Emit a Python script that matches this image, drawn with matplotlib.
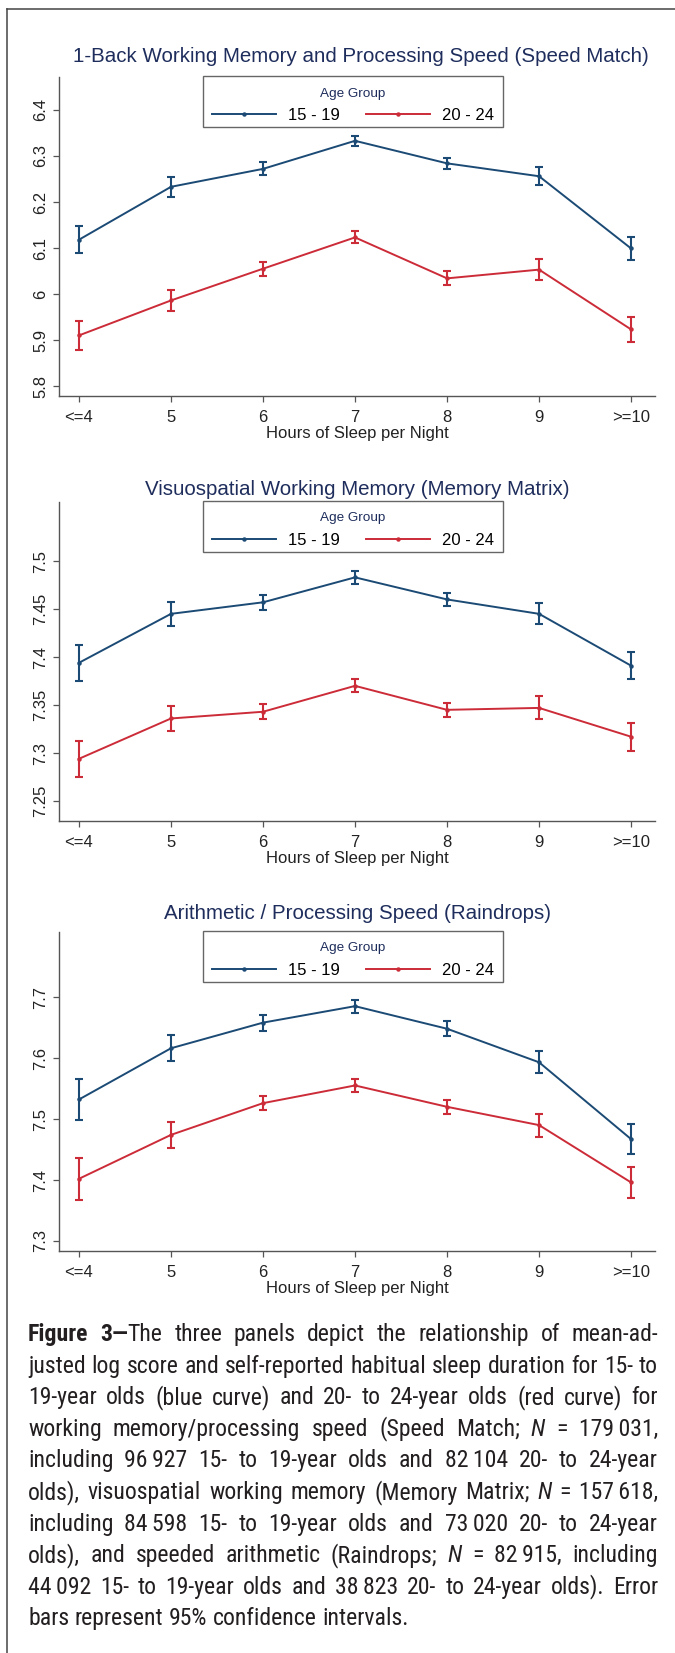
import matplotlib
matplotlib.use("Agg")
import matplotlib.pyplot as plt
from matplotlib import font_manager as fm
from matplotlib.lines import Line2D
from matplotlib.patches import Rectangle

# ---------------- data ----------------
hours = ["<=4", "5", "6", "7", "8", "9", ">=10"]
groups = ["15 - 19", "20 - 24"]

titles = ["1-Back Working Memory and Processing Speed (Speed Match)",
          "Visuospatial Working Memory (Memory Matrix)",
          "Arithmetic / Processing Speed (Raindrops)"]

# Panel 1: Speed Match
sm_mean_1519 = [6.118, 6.233, 6.272, 6.333, 6.284, 6.256, 6.099]
sm_ci_1519 = [0.029, 0.022, 0.014, 0.011, 0.012, 0.019, 0.024]
sm_mean_2024 = [5.910, 5.986, 6.055, 6.123, 6.034, 6.053, 5.923]
sm_ci_2024 = [0.032, 0.023, 0.015, 0.013, 0.015, 0.023, 0.027]
sm_yticks = [5.8, 5.9, 6.0, 6.1, 6.2, 6.3, 6.4]
sm_yticklabels = ["5.8", "5.9", "6", "6.1", "6.2", "6.3", "6.4"]

# Panel 2: Memory Matrix
mm_mean_1519 = [7.394, 7.445, 7.457, 7.483, 7.460, 7.445, 7.391]
mm_ci_1519 = [0.0186, 0.0127, 0.008, 0.0068, 0.007, 0.011, 0.014]
mm_mean_2024 = [7.294, 7.336, 7.343, 7.370, 7.345, 7.347, 7.317]
mm_ci_2024 = [0.019, 0.0127, 0.008, 0.0068, 0.007, 0.012, 0.0145]
mm_yticks = [7.25, 7.30, 7.35, 7.40, 7.45, 7.50]
mm_yticklabels = ["7.25", "7.3", "7.35", "7.4", "7.45", "7.5"]

# Panel 3: Raindrops
rd_mean_1519 = [7.532, 7.616, 7.658, 7.685, 7.648, 7.593, 7.467]
rd_ci_1519 = [0.033, 0.021, 0.013, 0.0105, 0.012, 0.018, 0.025]
rd_mean_2024 = [7.402, 7.474, 7.526, 7.555, 7.520, 7.490, 7.396]
rd_ci_2024 = [0.034, 0.021, 0.012, 0.011, 0.011, 0.019, 0.025]
rd_yticks = [7.3, 7.4, 7.5, 7.6, 7.7]
rd_yticklabels = ["7.3", "7.4", "7.5", "7.6", "7.7"]

caption_lines = [
    "*Figure 3\u2014*The three panels depict the relationship of mean-ad-",
    "justed log score and self-reported habitual sleep duration for 15- to",
    "19-year olds (blue curve) and 20- to 24-year olds (red curve) for",
    "working memory/processing speed (Speed Match; _N_ = 179\u2009031,",
    "including 96\u2009927 15- to 19-year olds and 82\u2009104 20- to 24-year",
    "olds), visuospatial working memory (Memory Matrix; _N_ = 157\u2009618,",
    "including 84\u2009598 15- to 19-year olds and 73\u2009020 20- to 24-year",
    "olds), and speeded arithmetic (Raindrops; _N_ = 82\u2009915, including",
    "44\u2009092 15- to 19-year olds and 38\u2009823 20- to 24-year olds). Error",
    "bars represent 95% confidence intervals.",
]

# ---------------- style ----------------
W, H = 675, 1653
BLUE = "#1b4a75"
RED = "#cc2b38"
NAVY = "#1e2d5c"
AXC = "#555555"
TXT = "#222222"

plt.rcParams["font.family"] = ["Liberation Sans", "DejaVu Sans"]

fig = plt.figure(figsize=(W / 100, H / 100), dpi=100)


def fx(px):
    return px / W


def fy(py):
    return 1 - py / H


# outer frame (top and left edges visible)
fig.add_artist(Line2D([fx(7), 1.0], [fy(9), fy(9)], color="#444444", lw=1.1))
fig.add_artist(Line2D([fx(7), fx(7)], [fy(9), 0.0], color="#444444", lw=1.1))

panels = [
    (titles[0], sm_mean_1519, sm_ci_1519, sm_mean_2024, sm_ci_2024,
     sm_yticks, sm_yticklabels, (5.7783, 6.4717), 77, 396, 56, 361),
    (titles[1], mm_mean_1519, mm_ci_1519, mm_mean_2024, mm_ci_2024,
     mm_yticks, mm_yticklabels, (7.2292, 7.5615), 502, 821, 490, 357),
    (titles[2], rd_mean_1519, rd_ci_1519, rd_mean_2024, rd_ci_2024,
     rd_yticks, rd_yticklabels, (7.2836, 7.8066), 932, 1251, 914, 358),
]

x = list(range(len(hours)))
AX_L, AX_R = 59, 655
LEG_L, LEG_R, LEG_H = 203, 503, 51

for (title, m1, c1, m2, c2, yt, ytl, ylim, top, bot, ty, tx) in panels:
    ax = fig.add_axes([fx(AX_L), fy(bot), (AX_R - AX_L) / W, (bot - top) / H])
    handles = []
    for mean, ci, col, lab in ((m1, c1, BLUE, groups[0]), (m2, c2, RED, groups[1])):
        ax.errorbar(x, mean, yerr=ci, fmt="none", ecolor=col, elinewidth=1.5,
                    capsize=2.6, capthick=1.5, zorder=3)
        ln, = ax.plot(x, mean, color=col, lw=1.4, marker="o", ms=2.2,
                      label=lab, zorder=4)
        handles.append(ln)
    ax.set_xlim(-0.217, 6.26)
    ax.set_ylim(*ylim)
    ax.set_xticks(x)
    ax.set_xticklabels(hours)
    ax.set_yticks(yt)
    ax.set_yticklabels(ytl)
    for s in ("top", "right"):
        ax.spines[s].set_visible(False)
    for s in ("left", "bottom"):
        ax.spines[s].set_color(AXC)
        ax.spines[s].set_linewidth(1.0)
    ax.tick_params(axis="both", direction="out", length=4.3, width=0.9,
                   color=AXC, labelsize=12, labelcolor=TXT)
    ax.tick_params(axis="x", pad=5.5)
    ax.tick_params(axis="y", pad=3.5, labelrotation=90)
    for lab in ax.get_yticklabels():
        lab.set_va("center")
    ax.set_xlabel("Hours of Sleep per Night", fontsize=12, color=TXT, labelpad=1)
    ax.set_facecolor("none")
    # legend frame (Stata style, asymmetric padding)
    ax.add_patch(Rectangle((fx(LEG_L), fy(top - 1 + LEG_H)), (LEG_R - LEG_L) / W, LEG_H / H,
                           transform=fig.transFigure, facecolor="white",
                           edgecolor="#666666", lw=1.0, clip_on=False, zorder=4.9))
    leg = ax.legend(handles=handles, labels=groups, title="Age Group", ncol=2,
                    loc="upper center",
                    bbox_to_anchor=(((LEG_L + LEG_R) / 2 - AX_L) / (AX_R - AX_L), 1.0),
                    frameon=False, fontsize=12, title_fontsize=9.7, handlelength=3.84,
                    handletextpad=0.72, columnspacing=1.55, borderpad=0.63,
                    labelspacing=0.51, borderaxespad=0)
    leg.get_title().set_color(NAVY)
    leg.set_zorder(5)
    fig.text(fx(tx), fy(ty), title, fontsize=14.8,
             color=NAVY, ha="center", va="center")

# ---------------- caption (justified) ----------------
avail = set(f.name for f in fm.fontManager.ttflist)
cap_font = "DejaVu Sans"
for cand in ["Liberation Sans Narrow", "Roboto Condensed", "Archivo Narrow",
             "IBM Plex Sans Condensed", "Fira Sans Condensed"]:
    if cand in avail:
        cap_font = cand
        break
CAP_FAM = [cap_font, "DejaVu Sans"]
CAP_COLOR = "#231f20"
renderer = fig.canvas.get_renderer()


# bold/italic state carries across words; '*' toggles bold, '_' toggles italic
def parse_line(line):
    words = []
    bold = False
    ital = False
    for w in line.split(" "):
        runs = []
        buf = ""
        for ch in w:
            if ch in "*_":
                if buf:
                    runs.append((buf, bold, ital))
                    buf = ""
                if ch == "*":
                    bold = not bold
                else:
                    ital = not ital
            else:
                buf += ch
        if buf:
            runs.append((buf, bold, ital))
        words.append(runs)
    return words


def measure(txt, size, bold=False, ital=False):
    t = fig.text(0, 0, txt, fontsize=size, family=CAP_FAM,
                 fontweight="bold" if bold else "normal",
                 fontstyle="italic" if ital else "normal")
    w = t.get_window_extent(renderer).width
    t.remove()
    return w


CAP_L, CAP_R = 28, 658
CAP_W = CAP_R - CAP_L
base_size = 16.0
parsed = [parse_line(l) for l in caption_lines]


def natural_width(words, size):
    sp = measure("a a", size) - measure("aa", size)
    tot = 0
    for runs in words:
        for (t, b, i) in runs:
            tot += measure(t, size, b, i)
    return tot + sp * (len(words) - 1)


maxnat = max(natural_width(w, base_size) for w in parsed[:-1])
cap_size = base_size * CAP_W / maxnat * 0.995
cap_size = max(11.0, min(cap_size, 18.0))
space_w = measure("a a", cap_size) - measure("aa", cap_size)

BASE0 = 1341
LEAD = 31.6
for li, words in enumerate(parsed):
    widths = [[measure(t, cap_size, b, i) for (t, b, i) in runs] for runs in words]
    total = sum(sum(ws) for ws in widths)
    if li < len(parsed) - 1 and len(words) > 1:
        gap = (CAP_W - total) / (len(words) - 1)
    else:
        gap = space_w
    xc = CAP_L
    yb = BASE0 + li * LEAD
    for runs, ws in zip(words, widths):
        for (t, b, i), w in zip(runs, ws):
            fig.text(fx(xc), fy(yb), t, fontsize=cap_size, family=CAP_FAM,
                     fontweight="bold" if b else "normal",
                     fontstyle="italic" if i else "normal",
                     color=CAP_COLOR, ha="left", va="baseline")
            xc += w
        xc += gap

fig.savefig("out.png", dpi=100)
